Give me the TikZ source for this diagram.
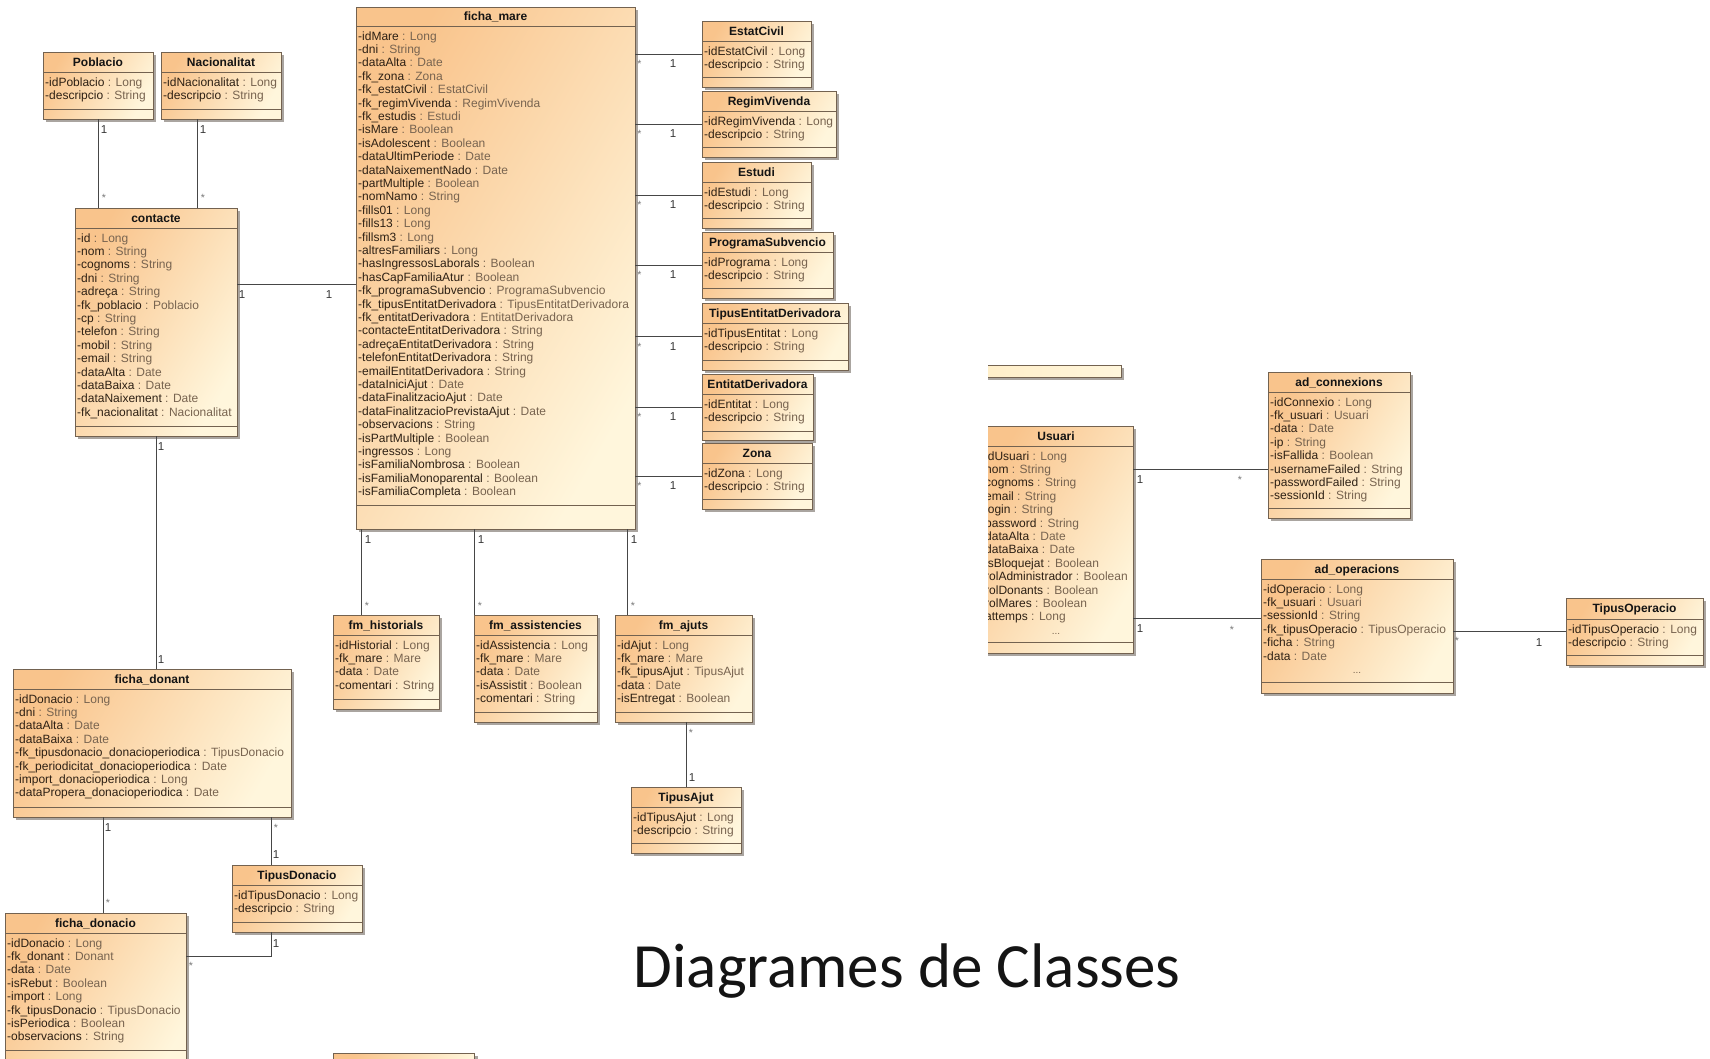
\documentclass[tikz,border=0pt]{standalone}
\usepackage{fontspec}
\setmainfont{Liberation Sans}
\newfontfamily\titlefont{Carlito}
\usetikzlibrary{calc}
\definecolor{fillA}{RGB}{249,196,140}
\definecolor{fillB}{RGB}{255,246,220}
\definecolor{fillC}{RGB}{255,238,200}
\definecolor{bordc}{RGB}{115,98,80}
\definecolor{shadc}{RGB}{170,165,160}
\definecolor{namec}{RGB}{45,32,20}
\definecolor{typec}{RGB}{120,100,80}
\definecolor{connc}{RGB}{70,70,70}
\definecolor{multc}{RGB}{55,55,55}
\definecolor{starc}{RGB}{120,120,120}
\definecolor{titc}{RGB}{20,20,20}
\tikzset{
  clsbox/.style={rectangle, draw=bordc, line width=0.9pt, inner sep=0pt, outer sep=0pt,
    top color=fillA, bottom color=fillB, shading angle=60},
  sepline/.style={draw=bordc, line width=0.8pt},
  clstitle/.style={font=\bfseries\fontsize{12}{13.4}\selectfont, text=titc, inner sep=0pt, anchor=base},
  attr/.style={font=\fontsize{12}{13.4}\selectfont, inner sep=0pt, anchor=base west},
  dots/.style={font=\fontsize{10}{12}\selectfont, text=typec, inner sep=0pt, anchor=base},
  conn/.style={draw=connc, line width=1pt},
  mone/.style={font=\fontsize{11.5}{12}\selectfont, text=multc, inner sep=0pt, anchor=base},
  mstar/.style={font=\fontsize{10.5}{12}\selectfont, text=starc, inner sep=0pt, anchor=base},
}
% name, x1, y1, x2, y2, header line y, attribute separator y, title, rows
\newcommand{\UMLbox}[9]{%
  \fill[shadc] ({#2+3},{#3+3}) rectangle ({#4+3},{#5+3});
  \node[clsbox, minimum width={(#4-#2)*1pt}, minimum height={(#5-#3)*1pt}, anchor=north west] (#1) at (#2,#3) {};
  \draw[sepline] (#2,#6) -- (#4,#6);
  \draw[sepline] (#2,#7) -- (#4,#7);
  \node[clstitle] (#1-title) at ({(#2+#4)/2},{(#3+#6)/2+4.3}) {#8};
  \foreach \xn/\xt [count=\xi from 0] in {#9} {
    \node[attr] (#1-r\xi) at ({#2+2},{#6+14+\xi*13.4}) {\textcolor{namec}{-\xn} \textcolor{typec}{: \xt}};
  }
}
\begin{document}
\begin{tikzpicture}[x=1pt,y=-1pt]
\useasboundingbox (0,0) rectangle (1710,1058);
\fill[white] (0,0) rectangle (1710,1058);
\clip (0,0) rectangle (1710,1058);

% ---------------- classes ----------------
\UMLbox{Poblacio}{43}{52}{153}{119}{72}{109}{Poblacio}{idPoblacio/Long, descripcio/String}
\UMLbox{Nacionalitat}{161}{52}{281}{119}{72}{109}{Nacionalitat}{idNacionalitat/Long, descripcio/String}
\UMLbox{contacte}{75}{208}{237}{436}{228}{426}{contacte}{id/Long, nom/String, cognoms/String, dni/String, adreça/String, fk\_poblacio/Poblacio, cp/String, telefon/String, mobil/String, email/String, dataAlta/Date, dataBaixa/Date, dataNaixement/Date, fk\_nacionalitat/Nacionalitat}
\UMLbox{ficha_mare}{356}{7}{635}{529}{26}{505}{ficha\_mare}{idMare/Long, dni/String, dataAlta/Date, fk\_zona/Zona, fk\_estatCivil/EstatCivil, fk\_regimVivenda/RegimVivenda, fk\_estudis/Estudi, isMare/Boolean, isAdolescent/Boolean, dataUltimPeriode/Date, dataNaixementNado/Date, partMultiple/Boolean, nomNamo/String, fills01/Long, fills13/Long, fillsm3/Long, altresFamiliars/Long, hasIngressosLaborals/Boolean, hasCapFamiliaAtur/Boolean, fk\_programaSubvencio/ProgramaSubvencio, fk\_tipusEntitatDerivadora/TipusEntitatDerivadora, fk\_entitatDerivadora/EntitatDerivadora, contacteEntitatDerivadora/String, adreçaEntitatDerivadora/String, telefonEntitatDerivadora/String, emailEntitatDerivadora/String, dataIniciAjut/Date, dataFinalitzacioAjut/Date, dataFinalitzacioPrevistaAjut/Date, observacions/String, isPartMultiple/Boolean, ingressos/Long, isFamiliaNombrosa/Boolean, isFamiliaMonoparental/Boolean, isFamiliaCompleta/Boolean}
\UMLbox{EstatCivil}{702}{21}{811}{87}{41}{77}{EstatCivil}{idEstatCivil/Long, descripcio/String}
\UMLbox{RegimVivenda}{702}{91}{836}{157}{111}{147}{RegimVivenda}{idRegimVivenda/Long, descripcio/String}
\UMLbox{Estudi}{702}{162}{811}{228}{182}{218}{Estudi}{idEstudi/Long, descripcio/String}
\UMLbox{ProgramaSubvencio}{702}{232}{833}{298}{252}{288}{ProgramaSubvencio}{idPrograma/Long, descripcio/String}
\UMLbox{TipusEntitatDerivadora}{702}{303}{848}{370}{323}{360}{TipusEntitatDerivadora}{idTipusEntitat/Long, descripcio/String}
\UMLbox{EntitatDerivadora}{702}{374}{813}{440}{394}{431}{EntitatDerivadora}{idEntitat/Long, descripcio/String}
\UMLbox{Zona}{702}{443}{812}{509}{463}{499}{Zona}{idZona/Long, descripcio/String}
\UMLbox{fm_historials}{333}{615}{439}{709}{635}{699}{fm\_historials}{idHistorial/Long, fk\_mare/Mare, data/Date, comentari/String}
\UMLbox{fm_assistencies}{474}{615}{597}{722}{635}{712}{fm\_assistencies}{idAssistencia/Long, fk\_mare/Mare, data/Date, isAssistit/Boolean, comentari/String}
\UMLbox{fm_ajuts}{615}{615}{752}{722}{635}{712}{fm\_ajuts}{idAjut/Long, fk\_mare/Mare, fk\_tipusAjut/TipusAjut, data/Date, isEntregat/Boolean}
\UMLbox{TipusAjut}{631}{787}{741}{853}{807}{843}{TipusAjut}{idTipusAjut/Long, descripcio/String}
\UMLbox{ficha_donant}{13}{669}{291}{817}{689}{807}{ficha\_donant}{idDonacio/Long, dni/String, dataAlta/Date, dataBaixa/Date, fk\_tipusdonacio\_donacioperiodica/TipusDonacio, fk\_periodicitat\_donacioperiodica/Date, import\_donacioperiodica/Long, dataPropera\_donacioperiodica/Date}
\UMLbox{TipusDonacio}{232}{865}{362}{932}{885}{922}{TipusDonacio}{idTipusDonacio/Long, descripcio/String}
\UMLbox{ficha_donacio}{5}{913}{186}{1090}{933}{1050}{ficha\_donacio}{idDonacio/Long, fk\_donant/Donant, data/Date, isRebut/Boolean, import/Long, fk\_tipusDonacio/TipusDonacio, isPeriodica/Boolean, observacions/String}

% partial box at the bottom edge
\fill[shadc] (336,1056) rectangle (478,1090);
\node[clsbox, minimum width=141pt, minimum height=40pt, anchor=north west] (cutbottom) at (333,1053) {};

% right part (cut at the left)
\begin{scope}
\clip (988,300) rectangle (1710,760);
\fill[shadc] (982,368) rectangle (1124,380);
\node[rectangle, draw=bordc, line width=0.9pt, inner sep=0pt, outer sep=0pt, left color=fillC, right color=fillB,
  minimum width=142pt, minimum height=12pt, anchor=north west] (cuttop) at (979,365) {};
\UMLbox{Usuari}{979}{426}{1133}{653}{446}{642}{Usuari}{idUsuari/Long, nom/String, cognoms/String, email/String, login/String, password/String, dataAlta/Date, dataBaixa/Date, isBloquejat/Boolean, rolAdministrador/Boolean, rolDonants/Boolean, rolMares/Boolean, attemps/Long}
\node[dots] (Usuari-dots) at (1056,{446+14+13*13.4}) {...};
\end{scope}
\UMLbox{ad_connexions}{1268}{372}{1410}{518}{392}{508}{ad\_connexions}{idConnexio/Long, fk\_usuari/Usuari, data/Date, ip/String, isFallida/Boolean, usernameFailed/String, passwordFailed/String, sessionId/String}
\UMLbox{ad_operacions}{1261}{559}{1453}{693}{579}{682}{ad\_operacions}{idOperacio/Long, fk\_usuari/Usuari, sessionId/String, fk\_tipusOperacio/TipusOperacio, ficha/String, data/Date}
\node[dots] (ad_operacions-dots) at (1357,{579+14+6*13.4}) {...};
\UMLbox{TipusOperacio}{1566}{598}{1703}{665}{619}{655}{TipusOperacio}{idTipusOperacio/Long, descripcio/String}

% ---------------- connectors ----------------
\draw[conn] (Poblacio.south) -- (Poblacio.south |- contacte.north);
\node[mone] (m-pob1) at (104,133) {1};
\node[mstar] (m-pob2) at (104,201) {*};
\draw[conn] (Nacionalitat.south -| 197,0) -- (contacte.north -| 197,0);
\node[mone] (m-nac1) at (203,133) {1};
\node[mstar] (m-nac2) at (203,201) {*};

\draw[conn] (contacte.east |- 0,284) -- (ficha_mare.west |- 0,284);
\node[mone] (m-cm1) at (242,298) {1};
\node[mone] (m-cm2) at (329,298) {1};

\draw[conn] (contacte.south) -- (contacte.south |- ficha_donant.north);
\node[mone] (m-cd1) at (161,450) {1};
\node[mone] (m-cd2) at (161,663) {1};

\foreach \b in {EstatCivil,RegimVivenda,Estudi,ProgramaSubvencio,TipusEntitatDerivadora,EntitatDerivadora,Zona}{
  \draw[conn] (\b.west -| ficha_mare.east) -- (\b.west);
  \node[mstar] (\b-ms) at ($(\b.west -| ficha_mare.east)+(4.5,13.5)$) {*};
  \node[mone] (\b-m1) at ($(\b.west -| ficha_mare.east)+(38,13.5)$) {1};
}

\draw[conn] (ficha_mare.south -| 361,0) -- (fm_historials.north -| 361,0);
\node[mone] (m-h1) at (368,543) {1};
\node[mstar] (m-h2) at (367,609) {*};
\draw[conn] (ficha_mare.south -| 474,0) -- (fm_assistencies.north -| 474,0);
\node[mone] (m-a1) at (481,543) {1};
\node[mstar] (m-a2) at (480,609) {*};
\draw[conn] (ficha_mare.south -| 627,0) -- (fm_ajuts.north -| 627,0);
\node[mone] (m-j1) at (634,543) {1};
\node[mstar] (m-j2) at (633,609) {*};

\draw[conn] (TipusAjut.north |- fm_ajuts.south) -- (TipusAjut.north);
\node[mstar] (m-ta1) at (691,736) {*};
\node[mone] (m-ta2) at (692,781) {1};

\draw[conn] (ficha_donant.south -| 103,0) -- (ficha_donacio.north -| 103,0);
\node[mone] (m-dd1) at (108,831) {1};
\node[mstar] (m-dd2) at (108,906) {*};
\draw[conn] (ficha_donant.south -| 271,0) -- (TipusDonacio.north -| 271,0);
\node[mstar] (m-dt1) at (276,831) {*};
\node[mone] (m-dt2) at (276,858) {1};
\draw[conn] (TipusDonacio.south -| 271,0) |- (ficha_donacio.east |- 0,956);
\node[mone] (m-td1) at (276,947) {1};
\node[mstar] (m-td2) at (191,969) {*};

\draw[conn] (Usuari.east |- 0,469) -- (ad_connexions.west |- 0,469);
\node[mone] (m-uc1) at (1140,483) {1};
\node[mstar] (m-uc2) at (1240,483) {*};
\draw[conn] (Usuari.east |- 0,618) -- (ad_operacions.west |- 0,618);
\node[mone] (m-uo1) at (1140,632) {1};
\node[mstar] (m-uo2) at (1232,633) {*};
\draw[conn] (ad_operacions.east |- TipusOperacio.west) -- (TipusOperacio.west);
\node[mstar] (m-ot1) at (1457,644) {*};
\node[mone] (m-ot2) at (1539,646) {1};

% ---------------- slide title ----------------
\node[font=\titlefont\fontsize{63}{70}\selectfont, text=titc, inner sep=0pt, anchor=base] (slidetitle) at (907,987) {Diagrames de Classes};
\end{tikzpicture}
\end{document}
